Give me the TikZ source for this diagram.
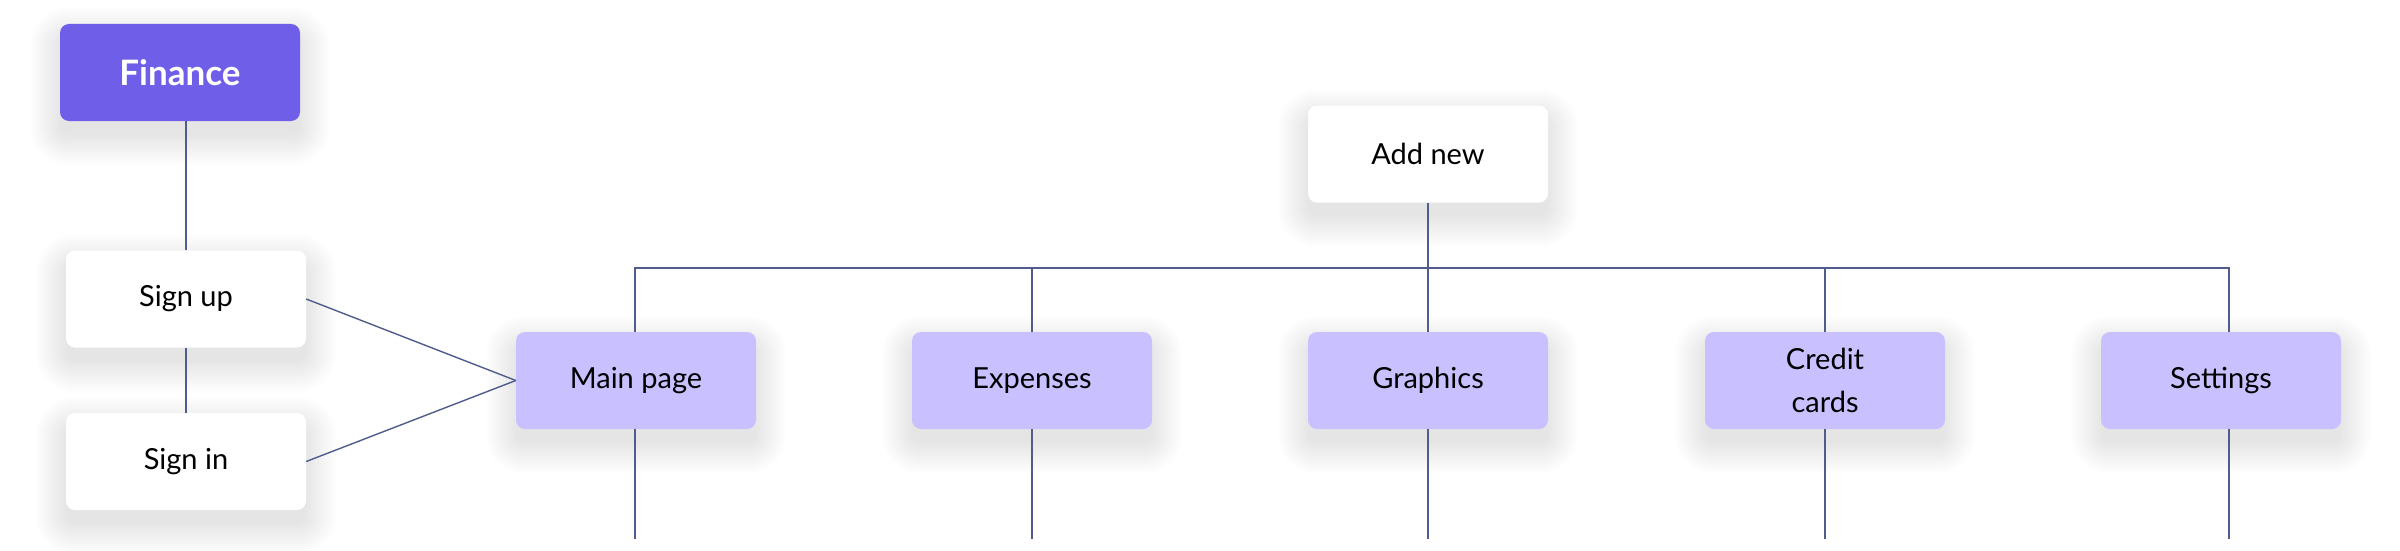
\documentclass[tikz,border=0pt]{standalone}
\usepackage{fontspec}
\setmainfont{Lato}
\definecolor{darkpurple}{HTML}{6F5FE8}
\definecolor{lightpurple}{HTML}{C8C0FF}
\definecolor{linecol}{HTML}{505C8C}
\pgfdeclarelayer{shadowlayer}
\pgfsetlayers{shadowlayer,main}
\tikzset{
  basebox/.style={rounded corners=9pt, minimum width=240pt, minimum height=97pt, inner sep=0pt,
    align=center, font=\fontsize{29}{43}\selectfont},
  whitebox/.style={basebox, fill=white},
  pagebox/.style={basebox, fill=lightpurple},
  rootbox/.style={basebox, fill=darkpurple, text=white, font=\fontsize{35}{42}\selectfont\bfseries},
  conn/.style={draw=linecol, line width=1.4pt},
  shadowstep/.style={fill=black, opacity=0.0065}
}
\newcommand{\softshadow}[1]{%
  \begin{pgfonlayer}{shadowlayer}
  \foreach \r in {0,2.5,...,30} {
    \fill[shadowstep, rounded corners=9pt+\r pt]
      ([xshift=-\r pt, yshift=\r pt-14pt]#1.north west) rectangle
      ([xshift=\r pt, yshift=-\r pt-14pt]#1.south east);
  }
  \end{pgfonlayer}}
\begin{document}
\begin{tikzpicture}[x=1pt,y=-1pt]
\useasboundingbox (0,0) rectangle (2400,551);
\begin{pgfonlayer}{shadowlayer}
\fill[white] (0,0) rectangle (2400,551);
\end{pgfonlayer}
% nodes
\node[rootbox]  (fin)  at (180,72.5) {Finance};
\node[whitebox] (sup)  at (186,299) {Sign up};
\node[whitebox] (sin)  at (186,461.5) {Sign in};
\node[whitebox] (add)  at (1428,154) {Add new};
\node[pagebox]  (main) at (636,380.5) {Main page};
\node[pagebox]  (exp)  at (1032,380.5) {Expenses};
\node[pagebox]  (gra)  at (1428,380.5) {Graphics};
\node[pagebox]  (cre)  at (1825,380.5) {Credit\\cards};
\node[pagebox]  (set)  at (2221,380.5) {Settings};
\foreach \n in {fin,sup,sin,add,main,exp,gra,cre,set} {\softshadow{\n}}
% coordinates
\coordinate (busL) at (635,268);
\coordinate (busR) at (2229,268);
\coordinate (setx) at (2229,0);
\coordinate (mainx) at (635,0);
\coordinate (endy) at (0,539);
% connectors
\draw[conn] (fin.south -| sup) -- (sup.north);
\draw[conn] (sup.south) -- (sin.north);
\draw[conn] (sup.east) -- (main.west);
\draw[conn] (sin.east) -- (main.west);
\draw[conn] (add.south) -- (gra.north);
\draw[conn] (main.north -| mainx) -- (busL) -- (busR) -- (set.north -| setx);
\draw[conn] (exp.north) -- (exp.north |- busL);
\draw[conn] (cre.north) -- (cre.north |- busL);
\draw[conn] (main.south -| mainx) -- (endy -| mainx);
\draw[conn] (exp.south) -- (endy -| exp.south);
\draw[conn] (gra.south) -- (endy -| gra.south);
\draw[conn] (cre.south) -- (endy -| cre.south);
\draw[conn] (set.south -| setx) -- (endy -| setx);
\end{tikzpicture}
\end{document}
